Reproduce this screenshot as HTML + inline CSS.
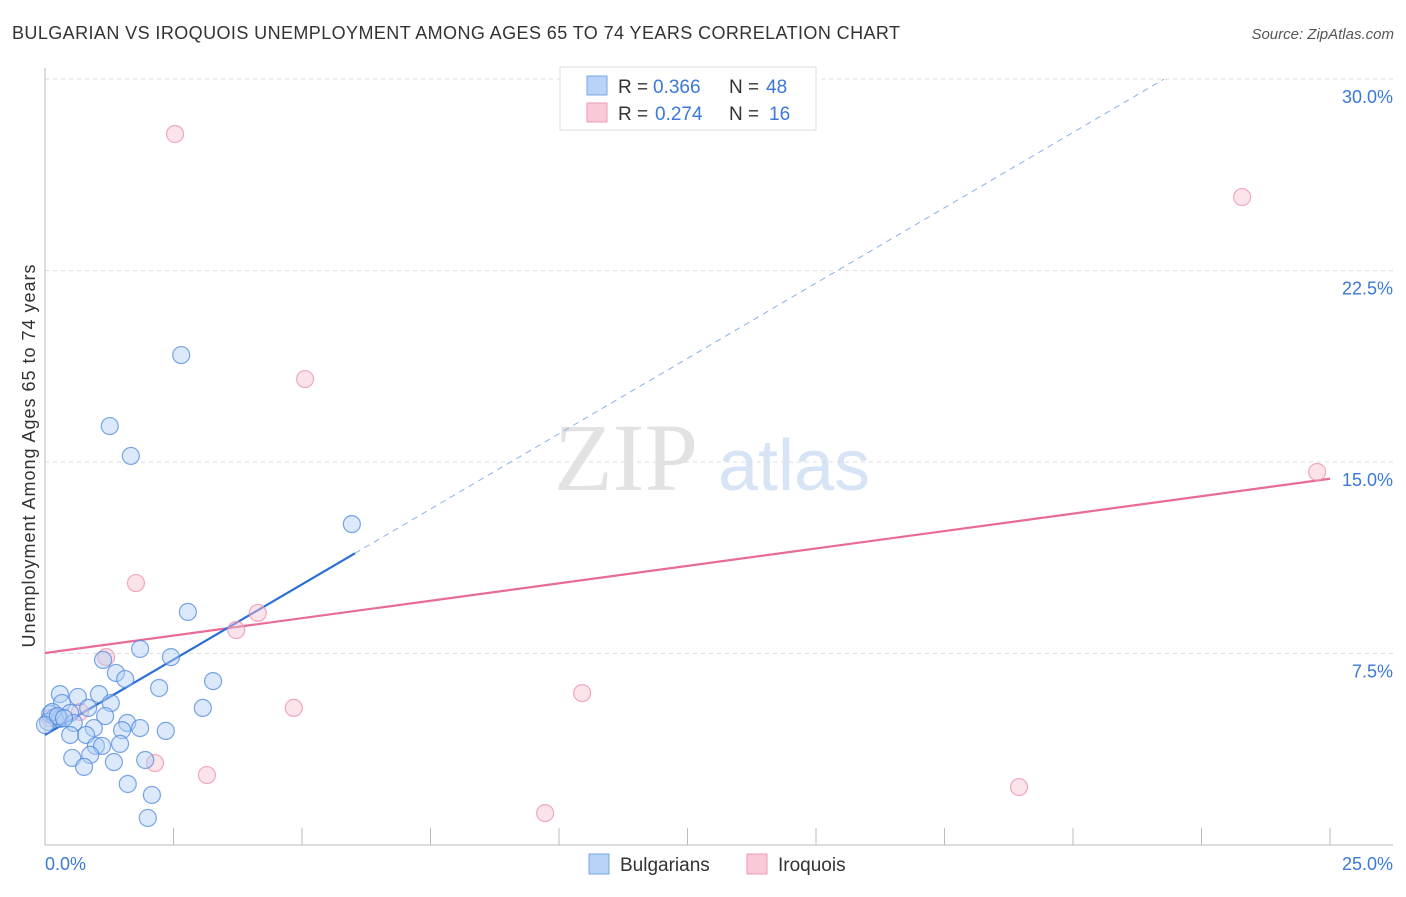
<!DOCTYPE html>
<html><head><meta charset="utf-8"><style>
body{margin:0;background:#fff;font-family:"Liberation Sans",sans-serif;}
svg text{font-family:"Liberation Sans",sans-serif;}
</style></head><body>
<svg id="c" width="1406" height="892">
<text x="12" y="39" font-size="18" fill="#333" textLength="888">BULGARIAN VS IROQUOIS UNEMPLOYMENT AMONG AGES 65 TO 74 YEARS CORRELATION CHART</text>
<text x="1394" y="39" font-size="15" fill="#555" font-style="italic" text-anchor="end">Source: ZipAtlas.com</text>
<text x="35" y="456" font-size="18" fill="#333" text-anchor="middle" textLength="383" transform="rotate(-90 35 456)">Unemployment Among Ages 65 to 74 years</text>
<text x="554" y="490" font-size="96" fill="#e2e2e2" style="font-family:'Liberation Serif',serif">ZIP</text>
<text x="718" y="490" font-size="72" fill="#d6e4f6">atlas</text>
<g id="grid"></g><g id="axes"></g><g id="lines"></g><g id="pts"></g>
<g>
<rect x="560" y="67" width="256" height="63" fill="#fff" stroke="#ddd"/>
<rect x="587" y="76" width="20" height="19" fill="#b8d3f7" stroke="#7aa6e6"/>
<rect x="587" y="103" width="20" height="19" fill="#f9c9d7" stroke="#ee9ab3"/>
<text x="618" y="93" font-size="19" fill="#333">R =</text>
<text x="653" y="93" font-size="19" fill="#3b78d8">0.366</text>
<text x="729" y="93" font-size="19" fill="#333">N =</text>
<text x="766" y="93" font-size="19" fill="#3b78d8">48</text>
<text x="618" y="120" font-size="19" fill="#333">R =</text>
<text x="655" y="120" font-size="19" fill="#3b78d8">0.274</text>
<text x="729" y="120" font-size="19" fill="#333">N =</text>
<text x="769" y="120" font-size="19" fill="#3b78d8">16</text>
</g>
<g>
<rect x="589" y="854" width="20" height="20" fill="#b8d3f7" stroke="#7aa6e6"/>
<text x="620" y="871" font-size="19" fill="#333">Bulgarians</text>
<rect x="747" y="854" width="20" height="20" fill="#f9c9d7" stroke="#ee9ab3"/>
<text x="778" y="871" font-size="19" fill="#333">Iroquois</text>
</g>
</svg>
<script>
const bluX=[2.65,1.26,1.67,5.97,2.78,1.85,2.45,1.13,1.38,1.56,3.27,2.22,0.29,1.05,0.64,0.33,1.28,3.07,0.84,1.17,0.10,0.19,0.29,0.06,0.14,0.49,1.60,0.56,0.95,1.85,1.50,2.35,0.49,0.80,0.99,1.11,1.46,0.53,0.88,1.34,1.95,0.76,1.61,2.08,2.00,0.00,0.25,0.37];
const bluY=[19.19,16.41,15.24,12.57,9.13,7.68,7.36,7.25,6.74,6.50,6.42,6.15,5.91,5.91,5.80,5.56,5.56,5.37,5.37,5.05,5.13,5.01,4.94,4.82,5.21,5.17,4.78,4.78,4.58,4.58,4.50,4.47,4.31,4.31,3.88,3.88,3.96,3.41,3.53,3.25,3.33,3.06,2.39,1.96,1.06,4.70,5.05,4.97];
const iroX=[2.53,23.29,5.06,24.75,1.77,4.14,3.72,1.19,10.45,4.84,0.68,0.10,2.14,3.15,18.95,9.73];
const iroY=[27.85,25.38,18.25,14.61,10.26,9.09,8.42,7.36,5.95,5.37,5.21,4.97,3.21,2.74,2.27,1.25];
const yTicks=[7.5,15,22.5,30];
const yTickLabels=["7.5%","15.0%","22.5%","30.0%"];
const xTicks=[2.5,5,7.5,10,12.5,15,17.5,20,22.5,25];
const bluFit=[4.31,1.18], iroFit=[7.52,0.273];
const X=v=>45+v*51.4, Y=v=>845-v*25.53;
const NS="http://www.w3.org/2000/svg";
function mk(p,t,a){const e=document.createElementNS(NS,t);for(const k in a)e.setAttribute(k,a[k]);document.getElementById(p).appendChild(e);return e;}
yTicks.forEach((t,i)=>{
 const g=mk('grid','line',{x1:45,x2:1393,y1:Y(t),y2:Y(t),stroke:'#ddd','stroke-dasharray':'4,4'});
 
 
 const l=mk('grid','text',{x:1393,y:Y(t)+24,'font-size':18,fill:'#3b78d8','text-anchor':'end'});
 l.textContent=yTickLabels[i];
 
 
});
const ax=mk('axes','line',{x1:45,x2:1393,y1:845,y2:845,stroke:'#bbb'});


const ay=mk('axes','line',{x1:45,x2:45,y1:68,y2:845,stroke:'#bbb'});


xTicks.forEach(t=>{const e=mk('axes','line',{x1:X(t),x2:X(t),y1:828,y2:845,stroke:'#bbb'});
 
 });
[["0.0%",45,'start'],["25.0%",1393,'end']].forEach(d=>{const e=mk('axes','text',{x:d[1],y:870,'font-size':18,fill:'#3b78d8','text-anchor':d[2]});e.textContent=d[0];
 
 });
function pts(xs,ys,f,s,n){xs.forEach((x,i)=>{const c=mk('pts','circle',{cx:X(x),cy:Y(ys[i]),r:8.5,fill:f,'fill-opacity':0.45,stroke:s,'stroke-opacity':0.75,'stroke-width':1.2});
 
 });}
pts(iroX,iroY,'#f7c0d0','#ec8fab','iroquois-point');
pts(bluX,bluY,'#b2cff4','#4f88dd','bulgarian-point');
const xEnd=(30-bluFit[0])/bluFit[1];
const bd=mk('lines','line',{x1:X(6.03),y1:Y(bluFit[0]+bluFit[1]*6.03),x2:X(xEnd),y2:Y(30),stroke:'#8ab0e8','stroke-dasharray':'6,5','stroke-width':1});


const ir=mk('lines','line',{x1:X(0),y1:Y(iroFit[0]),x2:X(25),y2:Y(iroFit[0]+iroFit[1]*25),stroke:'#e86b93','stroke-width':2.2});


const bl=mk('lines','line',{x1:X(0),y1:Y(bluFit[0]),x2:X(6.03),y2:Y(bluFit[0]+bluFit[1]*6.03),stroke:'#2a6fd6','stroke-width':2.2});


</script>
</body></html>
